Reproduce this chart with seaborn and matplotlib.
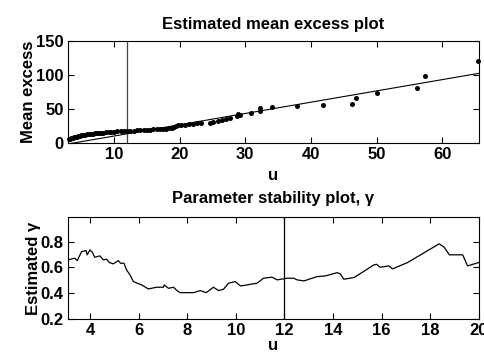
import numpy as np
import pandas as pd
import matplotlib
matplotlib.use("Agg")
import matplotlib.pyplot as plt
import seaborn as sns

# ---- data: mean excess plot ----
u_me = [3.1, 3.3, 3.5, 3.7, 3.9, 4.1, 4.3, 4.5, 4.8, 5.0, 5.3, 5.6, 5.9, 6.2, 6.5,
        6.8, 7.1, 7.4, 7.7, 8.0, 8.4, 8.8, 9.2, 9.6, 10.0, 10.5, 11.0, 11.5, 12.0,
        12.5, 13.0, 13.5, 14.0, 14.5, 15.0, 15.5, 16.0, 16.5, 17.0, 17.5, 18.0,
        18.4, 18.8, 19.1, 19.4, 19.7, 20.2, 20.8, 21.5, 22.0, 22.6, 23.3, 24.6,
        25.1, 25.9, 26.5, 27.1, 27.6, 28.7, 28.9, 29.2, 30.9, 32.2, 32.2, 34.0,
        37.9, 41.9, 46.3, 46.9, 50.0, 56.2, 57.3, 65.5]
mean_excess = [5.4, 6.0, 7.0, 7.8, 8.5, 9.0, 9.5, 10.0, 10.7, 11.2, 11.8, 12.2, 12.6,
               13.0, 13.3, 13.6, 14.0, 14.3, 14.6, 15.0, 15.3, 15.6, 16.0, 16.3, 16.6,
               17.0, 17.2, 17.4, 17.7, 18.0, 18.3, 18.6, 18.9, 19.2, 19.5, 19.8, 20.0,
               20.3, 20.6, 21.0, 21.3, 21.6, 22.0, 23.5, 25.0, 26.0, 26.5, 27.0, 27.5,
               28.0, 29.0, 29.5, 30.0, 31.4, 32.8, 33.5, 34.8, 36.3, 39.7, 42.6, 41.0,
               44.6, 47.5, 51.0, 53.4, 54.4, 55.9, 58.0, 66.0, 73.0, 81.0, 99.0, 121.0]
u_fit = [3.0, 65.6]
me_fit = [-1.4, 102.5]

# ---- data: parameter stability plot ----
u_gamma = [3.1, 3.38, 3.48, 3.66, 3.84, 3.89, 4.0, 4.11, 4.2, 4.41, 4.55, 4.69, 4.8,
           4.96, 5.17, 5.26, 5.4, 5.51, 5.65, 5.79, 5.95, 6.13, 6.4, 6.75, 7.02, 7.06,
           7.23, 7.44, 7.58, 7.71, 7.99, 8.26, 8.54, 8.78, 9.08, 9.29, 9.49, 9.70,
           9.98, 10.19, 10.46, 10.87, 11.14, 11.49, 11.7, 12.11, 12.38, 12.52, 12.8,
           13.34, 13.69, 14.17, 14.3, 14.44, 14.86, 15.68, 15.79, 15.93, 16.3, 16.44,
           17.06, 18.36, 18.57, 18.78, 19.33, 19.53, 20.03]
gamma = [0.658, 0.671, 0.652, 0.722, 0.73, 0.697, 0.735, 0.714, 0.678, 0.689, 0.658,
         0.663, 0.637, 0.627, 0.652, 0.632, 0.632, 0.58, 0.541, 0.49, 0.477, 0.464,
         0.433, 0.446, 0.446, 0.464, 0.438, 0.446, 0.42, 0.404, 0.404, 0.404, 0.42,
         0.404, 0.446, 0.42, 0.43, 0.477, 0.49, 0.456, 0.464, 0.477, 0.516, 0.524,
         0.503, 0.516, 0.516, 0.503, 0.495, 0.528, 0.534, 0.559, 0.549, 0.508, 0.521,
         0.619, 0.624, 0.601, 0.611, 0.588, 0.637, 0.782, 0.756, 0.697, 0.697, 0.611,
         0.64]
threshold = 12.0

sns.set_theme(style="white")
plt.rcParams['font.family'] = ['Liberation Sans', 'DejaVu Sans']
plt.rcParams['font.weight'] = 'bold'
plt.rcParams['axes.labelweight'] = 'bold'
plt.rcParams['axes.titleweight'] = 'bold'
plt.rcParams['text.color'] = 'black'
plt.rcParams['axes.labelcolor'] = 'black'
plt.rcParams['axes.titlecolor'] = 'black'

W, H = 484, 354
fig = plt.figure(figsize=(W / 100, H / 100), dpi=100)
ax1 = fig.add_axes([68 / W, 1 - 143 / H, 411 / W, 102 / H])
ax2 = fig.add_axes([68 / W, 1 - 319 / H, 411 / W, 102 / H])

df_me = pd.DataFrame({"u": u_me, "me": mean_excess})
df_fit = pd.DataFrame({"u": u_fit, "me": me_fit})
df_g = pd.DataFrame({"u": u_gamma, "g": gamma})

sns.lineplot(data=df_fit, x="u", y="me", ax=ax1, color="black", linewidth=0.8)
sns.scatterplot(data=df_me, x="u", y="me", ax=ax1, color="black", s=13,
                edgecolor="black", linewidth=0, zorder=3, clip_on=False)
ax1.axvline(threshold, color="#444444", linewidth=0.9)
ax1.set_xlim(3.0, 65.6)
ax1.set_ylim(0, 150)
ax1.set_xticks([10, 20, 30, 40, 50, 60])
ax1.set_yticks([0, 50, 100, 150])
ax1.set_title("Estimated mean excess plot", fontsize=12, pad=9)
ax1.set_xlabel("u", fontsize=12, labelpad=4)
ax1.set_ylabel("Mean excess", fontsize=12, labelpad=0)

sns.lineplot(data=df_g, x="u", y="g", ax=ax2, color="black", linewidth=0.9)
ax2.axvline(threshold, color="black", linewidth=0.9)
ax2.set_xlim(3.1, 20.0)
ax2.set_ylim(0.2, 0.99)
ax2.set_xticks([4, 6, 8, 10, 12, 14, 16, 18, 20])
ax2.set_yticks([0.2, 0.4, 0.6, 0.8])
ax2.set_title("Parameter stability plot, γ", fontsize=12, pad=10)
ax2.set_xlabel("u", fontsize=12, labelpad=0)
ax2.set_ylabel("Estimated γ", fontsize=12, labelpad=0)

for ax in (ax1, ax2):
    for sp in ax.spines.values():
        sp.set_visible(True)
        sp.set_color("black")
        sp.set_linewidth(0.8)
    ax.tick_params(direction="in", length=4, width=0.8, top=True, right=True,
                   bottom=True, left=True, labelsize=12, pad=3, colors="black")
    for lab in ax.get_xticklabels() + ax.get_yticklabels():
        lab.set_fontweight("bold")
    ax.grid(False)

fig.savefig("out.png", dpi=100)
